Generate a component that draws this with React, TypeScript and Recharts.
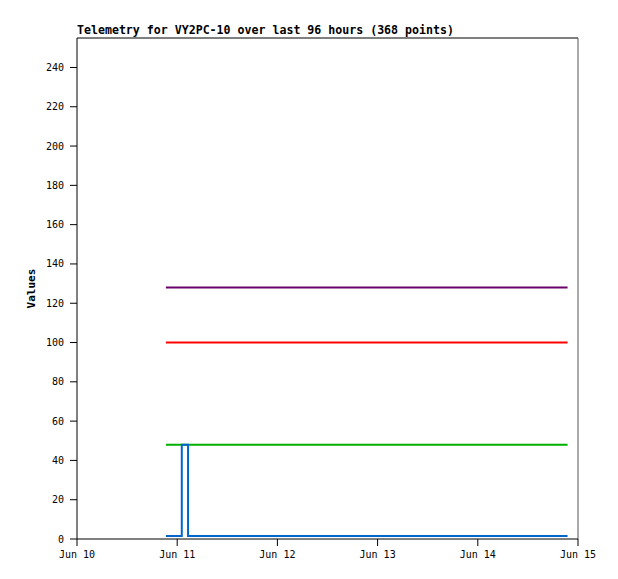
import React from "react";
import {
  LineChart,
  Line,
  XAxis,
  YAxis,
  ReferenceLine,
} from "recharts";

// hours since Jun 10 00:00
const hours = [21.3, 25.1, 26.6, 117.5];
const series1 = [128, 128, 128, 128];
const series2 = [100, 100, 100, 100];
const series3 = [48, 48, 48, 48];
const series4 = [1.5, 48, 1.5, 1.5];

const xTicks = [0, 24, 48, 72, 96, 120];
const xTickLabels = ["Jun 10", "Jun 11", "Jun 12", "Jun 13", "Jun 14", "Jun 15"];
const yTicks = [0, 20, 40, 60, 80, 100, 120, 140, 160, 180, 200, 220, 240];

const title = "Telemetry for VY2PC-10 over last 96 hours (368 points)";

const FONT = "'DejaVu Sans Mono', monospace";

const data = hours.map((h, i) => ({
  t: h,
  a: series1[i],
  b: series2[i],
  c: series3[i],
  d: series4[i],
}));

const App: React.FC = () => {
  return (
    <div
      style={{
        position: "absolute",
        left: 0,
        top: 0,
        width: 618,
        height: 579,
        background: "#fff",
        fontFamily: FONT,
      }}
    >
      <div
        style={{
          position: "absolute",
          left: 77,
          top: 23,
          fontSize: "11.6px",
          fontWeight: "bold",
          color: "#000",
          whiteSpace: "nowrap",
        }}
      >
        {title}
      </div>
      <LineChart
        width={618}
        height={579}
        data={data}
        margin={{ top: 38, right: 40, bottom: 10, left: 0 }}
      >
        <XAxis
          dataKey="t"
          type="number"
          domain={[0, 120]}
          ticks={xTicks}
          tickFormatter={(v: number) => xTickLabels[xTicks.indexOf(v)]}
          height={30}
          tickSize={7}
          tickMargin={5}
          stroke="#000"
          tick={{ fill: "#000", fontSize: 10, fontFamily: FONT }}
          allowDataOverflow
        />
        <YAxis
          type="number"
          domain={[0, 255]}
          ticks={yTicks}
          width={77}
          tickSize={7}
          tickMargin={6}
          stroke="#000"
          tick={{ fill: "#000", fontSize: 10, fontFamily: FONT }}
          label={{
            value: "Values",
            angle: -90,
            position: "insideLeft",
            offset: 31,
            style: {
              fontFamily: FONT,
              fontSize: 11,
              fontWeight: "bold",
              fill: "#000",
              textAnchor: "middle",
            },
          }}
          allowDataOverflow
        />
        <ReferenceLine y={255} stroke="#000" strokeWidth={1} />
        <ReferenceLine x={120} stroke="#555" strokeWidth={1} />
        <Line
          type="stepAfter"
          dataKey="a"
          stroke="#6b006b"
          strokeWidth={2}
          dot={false}
          isAnimationActive={false}
        />
        <Line
          type="stepAfter"
          dataKey="b"
          stroke="#ff0000"
          strokeWidth={2}
          dot={false}
          isAnimationActive={false}
        />
        <Line
          type="stepAfter"
          dataKey="c"
          stroke="#00b000"
          strokeWidth={2}
          dot={false}
          isAnimationActive={false}
        />
        <Line
          type="stepAfter"
          dataKey="d"
          stroke="#0066cc"
          strokeWidth={2}
          dot={false}
          isAnimationActive={false}
        />
      </LineChart>
    </div>
  );
};

export default App;
